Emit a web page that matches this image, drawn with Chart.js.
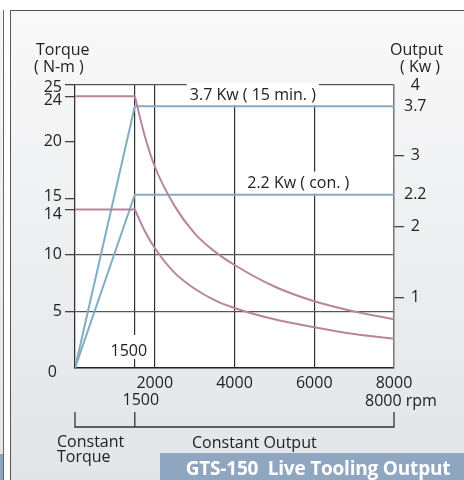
<!DOCTYPE html>
<html>
<head>
<meta charset="utf-8">
<script src="https://cdn.jsdelivr.net/npm/chart.js@4.4.1/dist/chart.umd.min.js"></script>
<style>
  html, body { margin: 0; padding: 0; }
  body { width: 464px; height: 480px; position: relative; overflow: hidden; background: #fff; font-family: "Open Sans", sans-serif; color: #222; }
  .side { position: absolute; left: 0; top: 10px; width: 3px; bottom: 0; background: linear-gradient(#f6f6f6, #e4e5e8); border-right: 1.5px solid #666; }
  .side-blue { position: absolute; left: 0; top: 454px; width: 3px; bottom: 0; background: #8fa6c1; }
  .panel { position: absolute; left: 10px; top: 10px; right: 0; bottom: 0; border-left: 1.5px solid #555; border-top: 1.5px solid #555; background: linear-gradient(#f9f9f9, #e2e4e8); }
  #wrap { position: absolute; left: 0; top: 0; width: 464px; height: 480px; }
  .lbl { position: absolute; font-size: 16px; line-height: 18px; white-space: nowrap; }
  .title { position: absolute; left: 160px; top: 453px; width: 304px; height: 27px; background: #8fa6c1; color: #fff; font-weight: bold; font-size: 19px; line-height: 30px; text-align: center; padding-left: 12px; box-sizing: border-box; white-space: nowrap; letter-spacing: -0.2px; }
</style>
</head>
<body>
<div class="side"></div>
<div class="side-blue"></div>
<div class="panel"></div>
<div id="wrap"><canvas id="myChart"></canvas></div>
<div class="lbl" style="left:36px;top:40px;">Torque</div>
<div class="lbl" style="left:34px;top:57px;">( N-m )</div>
<div class="lbl" style="left:390px;top:40px;">Output</div>
<div class="lbl" style="left:400px;top:57px;">( Kw )</div>
<div class="lbl" style="left:57px;top:434px;line-height:15px;">Constant<br>Torque</div>
<div class="lbl" style="left:192px;top:433px;">Constant Output</div>
<div class="title">GTS-150&nbsp;&nbsp;Live Tooling Output</div>

<script>
// spindle speed (rpm) where the constant output curves are read
const rpm = [1500, 1750, 2000, 2500, 3000, 3500, 4000, 5000, 6000, 7000, 8000];
// torque N-m, 15 min rating and continuous rating
const torque15min = [24, 20.5, 17.8, 14.3, 11.9, 10.3, 9.1, 7.2, 5.9, 5.0, 4.3];
const torqueCont = [14, 12.1, 10.6, 8.4, 7.0, 6.0, 5.3, 4.3, 3.6, 3.0, 2.6];

// output lines (Kw, as drawn against the right axis)
const powerRpm = [0, 1500, 8000];
const power15min = [0, 3.7, 3.7];
const powerCont = [0, 2.45, 2.45];
const powerNames = ['3.7', '2.2'];
const powerText = ['3.7 Kw ( 15 min. )', '2.2 Kw ( con. )'];

// axis ticks
const rpmTicks = [1500, 2000, 4000, 6000, 8000];
const torqueTicks = [0, 5, 10, 14, 15, 20, 24, 25];
const kwTicks = [1, 2, 3, 4];

const pink = '#b9849f';
const blue = '#82adc3';
const font = { family: 'Open Sans', size: 16 };
const powerLevels = [power15min[1], powerCont[1]];

// torque labels that sit close together are nudged apart, like in the print
const nudge = { 0: [-5, 4], 14: [0, 5], 15: [0, -2], 24: [0, 4], 25: [0, 2] };

const toPts = (xs, ys) => xs.map((x, i) => ({ x: x, y: ys[i] }));

const chartPlugin = {
    id: 'extras',
    beforeDraw(chart) {
        const { ctx, chartArea: a } = chart;
        ctx.save();
        ctx.fillStyle = '#fff';
        ctx.fillRect(a.left, a.top, a.right - a.left, a.bottom - a.top);
        ctx.restore();
    },
    beforeDatasetsDraw(chart) {
        const { ctx } = chart;
        const x = chart.scales.x;
        const y2 = chart.scales.y2;
        ctx.save();
        ctx.font = '16px "Open Sans"';
        ctx.textAlign = 'center';
        ctx.textBaseline = 'middle';

        // rating labels above the output lines
        const boxes = [
            { cx: x.getPixelForValue(4460), text: powerText[0], lvl: power15min[1] },
            { cx: x.getPixelForValue(5600), text: powerText[1], lvl: powerCont[1] }
        ];
        boxes.forEach(b => {
            const ly = y2.getPixelForValue(b.lvl);
            const w = ctx.measureText(b.text).width + 6;
            ctx.fillStyle = '#fff';
            ctx.fillRect(b.cx - w / 2, ly - 23, w, 22);
            ctx.fillStyle = '#222';
            ctx.fillText(b.text, b.cx, ly - 11);
        });

        // 1500 label inside the plot
        const x15 = x.getPixelForValue(1500);
        const yb = chart.chartArea.bottom;
        ctx.fillStyle = '#fff';
        ctx.fillRect(x15 - 26, yb - 33, 40, 24);
        ctx.fillStyle = '#222';
        ctx.fillText('1500', x15 - 6, yb - 17);
        ctx.restore();
    },
    afterDraw(chart) {
        const { ctx } = chart;
        const x = chart.scales.x;
        const y = chart.scales.y;
        const yb = chart.chartArea.bottom;
        ctx.save();
        ctx.font = '16px "Open Sans"';
        ctx.fillStyle = '#222';
        ctx.textBaseline = 'middle';

        // nudged torque labels
        ctx.textAlign = 'right';
        Object.keys(nudge).forEach(k => {
            const v = Number(k);
            ctx.fillText(String(v), y.right - 13 + nudge[k][0], y.getPixelForValue(v) + nudge[k][1]);
        });

        ctx.textAlign = 'center';
        ctx.fillText('1500', x.getPixelForValue(1500) + 6, yb + 32);
        ctx.textAlign = 'left';
        ctx.fillText('8000 rpm', x.getPixelForValue(8000) - 29, yb + 33);

        // constant torque / constant output bracket
        const by = yb + 59;
        ctx.strokeStyle = '#333';
        ctx.lineWidth = 1.3;
        ctx.beginPath();
        ctx.moveTo(x.getPixelForValue(0), by - 15);
        ctx.lineTo(x.getPixelForValue(0), by);
        ctx.lineTo(x.getPixelForValue(8000), by);
        ctx.lineTo(x.getPixelForValue(8000), by - 15);
        ctx.moveTo(x.getPixelForValue(1500), by - 15);
        ctx.lineTo(x.getPixelForValue(1500), by);
        ctx.stroke();
        ctx.restore();
    }
};

const ctx = document.getElementById('myChart').getContext('2d');

const myChart = new Chart(ctx, {
    type: 'line',
    data: {
        datasets: [{
                data: toPts([0, rpm[0]], [torque15min[0], torque15min[0]]),
                borderColor: pink,
                yAxisID: 'y',
            },
            {
                data: toPts(rpm, torque15min),
                borderColor: pink,
                cubicInterpolationMode: 'monotone',
                yAxisID: 'y',
            },
            {
                data: toPts([0, rpm[0]], [torqueCont[0], torqueCont[0]]),
                borderColor: pink,
                yAxisID: 'y',
            },
            {
                data: toPts(rpm, torqueCont),
                borderColor: pink,
                cubicInterpolationMode: 'monotone',
                yAxisID: 'y',
            },
            {
                data: toPts(powerRpm, power15min),
                borderColor: blue,
                yAxisID: 'y2',
            },
            {
                data: toPts(powerRpm, powerCont),
                borderColor: blue,
                yAxisID: 'y2',
            }
        ]
    },
    options: {
        responsive: true,
        maintainAspectRatio: false,
        animation: false,
        layout: { padding: { top: 85, left: 0, right: 0, bottom: 0 } },
        elements: {
            point: { radius: 0 },
            line: { borderWidth: 2, tension: 0, fill: false }
        },
        plugins: {
            legend: { display: false },
            tooltip: { enabled: false }
        },
        scales: {
            x: {
                type: 'linear',
                min: 0,
                max: 8000,
                afterBuildTicks: s => { s.ticks = rpmTicks.map(v => ({ value: v })); },
                afterFit: s => { s.height = 112; },
                ticks: {
                    autoSkip: false,
                    maxRotation: 0,
                    padding: 6,
                    color: '#222',
                    font: font,
                    callback: v => v === 1500 ? '' : String(v)
                },
                grid: { color: '#333', lineWidth: 1.2, drawTicks: false },
                border: { color: '#222', width: 1.5 }
            },
            y: {
                position: 'left',
                min: 0,
                max: 25,
                afterBuildTicks: s => { s.ticks = torqueTicks.map(v => ({ value: v })); },
                afterFit: s => { s.width = 75; },
                ticks: {
                    autoSkip: false,
                    padding: 3,
                    color: '#222',
                    font: font,
                    callback: v => (v in nudge) ? '' : String(v)
                },
                grid: {
                    color: c => [5, 10, 25].includes(c.tick.value) ? '#555' : 'rgba(0,0,0,0)',
                    tickColor: c => c.tick.value === 0 ? 'rgba(0,0,0,0)' : '#444',
                    tickLength: 10,
                    lineWidth: 1.3
                },
                border: { color: '#333', width: 1.3 }
            },
            y2: {
                position: 'right',
                min: 0,
                max: 4,
                afterBuildTicks: s => { s.ticks = kwTicks.concat(powerLevels).map(v => ({ value: v })); },
                afterFit: s => { s.width = 70; },
                ticks: {
                    autoSkip: false,
                    padding: 0,
                    crossAlign: 'center',
                    color: '#222',
                    font: font,
                    callback: v => {
                        const i = powerLevels.indexOf(v);
                        return i >= 0 ? powerNames[i] : String(v);
                    }
                },
                grid: {
                    drawOnChartArea: false,
                    tickLength: 10,
                    tickColor: c => (c.tick.value === 4 || powerLevels.includes(c.tick.value)) ? 'rgba(0,0,0,0)' : '#444',
                    lineWidth: 1.3
                },
                border: { color: '#777', width: 1.3 }
            }
        }
    },
    plugins: [chartPlugin]
});
</script>
</body>
</html>
